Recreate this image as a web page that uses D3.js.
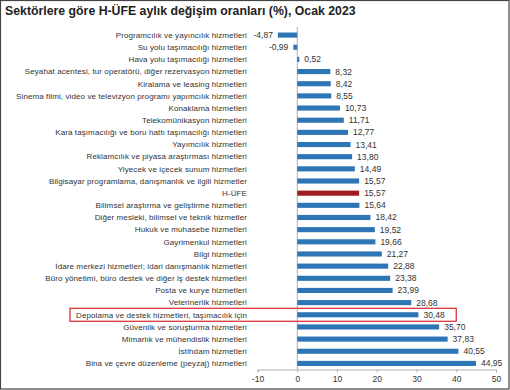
<!DOCTYPE html>
<html>
<head>
<meta charset="utf-8">
<script src="https://cdn.jsdelivr.net/npm/d3@7"></script>
<style>
  html, body { margin: 0; padding: 0; background: #fff; }
  svg { display: block; font-family: "Liberation Sans", Arial, sans-serif; }
</style>
</head>
<body>
<div id="chart"></div>
<script>
const categories = [
  "Programcılık ve yayıncılık hizmetleri",
  "Su yolu taşımacılığı hizmetleri",
  "Hava yolu taşımacılığı hizmetleri",
  "Seyahat acentesi, tur operatörü, diğer rezervasyon hizmetleri",
  "Kiralama ve leasing hizmetleri",
  "Sinema filmi, video ve televizyon programı yapımcılık hizmetleri",
  "Konaklama hizmetleri",
  "Telekomünikasyon hizmetleri",
  "Kara taşımacılığı ve boru hattı taşımacılığı hizmetleri",
  "Yayımcılık hizmetleri",
  "Reklamcılık ve piyasa araştırması hizmetleri",
  "Yiyecek ve içecek sunum hizmetleri",
  "Bilgisayar programlama, danışmanlık ve ilgili hizmetler",
  "H-ÜFE",
  "Bilimsel araştırma ve geliştirme hizmetleri",
  "Diğer mesleki, bilimsel ve teknik hizmetler",
  "Hukuk ve muhasebe hizmetleri",
  "Gayrimenkul hizmetleri",
  "Bilgi hizmetleri",
  "İdare merkezi hizmetleri; idari danışmanlık hizmetleri",
  "Büro yönetimi, büro destek ve diğer iş destek hizmetleri",
  "Posta ve kurye hizmetleri",
  "Veterinerlik hizmetleri",
  "Depolama ve destek hizmetleri, taşımacılık için",
  "Güvenlik ve soruşturma hizmetleri",
  "Mimarlık ve mühendislik hizmetleri",
  "İstihdam hizmetleri",
  "Bina ve çevre düzenleme (peyzaj) hizmetleri"
];
const values = [
  -4.87, -0.99, 0.52, 8.32, 8.42, 8.55, 10.73, 11.71, 12.77, 13.41,
  13.80, 14.49, 15.57, 15.57, 15.64, 18.42, 19.52, 19.66, 21.27, 22.88,
  23.38, 23.99, 28.68, 30.48, 35.70, 37.83, 40.55, 44.95
];
const xTicks = [-10, 0, 10, 20, 30, 40, 50];
const totalLabel = "H-ÜFE";
const highlighted = "Depolama ve destek hizmetleri, taşımacılık için";
const title = "Sektörlere göre H-ÜFE aylık değişim oranları (%), Ocak 2023";

const data = categories.map((c, i) => ({ name: c, value: values[i] }));

const W = 510, H = 390;
const svg = d3.select("#chart").append("svg")
  .attr("width", W).attr("height", H)
  .attr("viewBox", `0 0 ${W} ${H}`);

// frame
svg.append("rect").attr("x", 0.5).attr("y", 0.5).attr("width", W - 1.5).attr("height", H - 1.5)
  .attr("fill", "#fff").attr("stroke", "#444").attr("stroke-width", 1.2);

svg.append("text")
  .attr("x", 5).attr("y", 15)
  .attr("fill", "#222")
  .style("font-size", "12.3px").style("font-weight", "bold")
  .text(title);

const x = d3.scaleLinear().domain([-10, 50]).range([257.5, 496]);
const y = d3.scaleBand()
  .domain(categories)
  .range([29, 369.5])
  .paddingInner(0.58)
  .paddingOuter(0.29);

const trLocale = d3.formatLocale({ decimal: ",", thousands: ".", grouping: [3], currency: ["", ""], minus: "-" });
const fmt = trLocale.format(".2f");

// vertical zero axis
svg.append("line")
  .attr("x1", x(0)).attr("x2", x(0))
  .attr("y1", 27).attr("y2", 369.5)
  .attr("stroke", "#b0b0b0").attr("stroke-width", 1);

// bottom axis
const xAxis = svg.append("g")
  .attr("transform", `translate(0,369.5)`)
  .call(d3.axisBottom(x).tickValues(xTicks).tickSize(3).tickPadding(3).tickFormat(trLocale.format("d")));
xAxis.select(".domain").attr("stroke", "#b0b0b0");
xAxis.selectAll(".tick line").attr("stroke", "#b0b0b0");
xAxis.selectAll(".tick text").attr("fill", "#333").style("font-size", "8.5px")
  .style("font-family", "'Liberation Sans', Arial, sans-serif");

// bars
svg.append("g").selectAll("rect")
  .data(data)
  .join("rect")
  .attr("x", d => x(Math.min(0, d.value)))
  .attr("width", d => Math.abs(x(d.value) - x(0)))
  .attr("y", d => y(d.name))
  .attr("height", y.bandwidth())
  .attr("fill", d => d.name === totalLabel ? "#a01c1f" : "#2e75b6");

// category labels
svg.append("g").selectAll("text")
  .data(data)
  .join("text")
  .attr("x", 247)
  .attr("y", d => y(d.name) + y.bandwidth() / 2)
  .attr("dy", "0.35em")
  .attr("text-anchor", "end")
  .attr("fill", "#333")
  .style("font-size", "8px")
  .style("letter-spacing", "0.1px")
  .text(d => d.name);

// value labels
svg.append("g").selectAll("text")
  .data(data)
  .join("text")
  .attr("x", d => d.value < 0 ? x(d.value) - 5 : x(d.value) + 5)
  .attr("y", d => y(d.name) + y.bandwidth() / 2)
  .attr("dy", "0.35em")
  .attr("text-anchor", d => d.value < 0 ? "end" : "start")
  .attr("fill", "#333")
  .style("font-size", "8.5px")
  .text(d => fmt(d.value));

// highlight box
const hy = y(highlighted) + y.bandwidth() / 2;
svg.append("rect")
  .attr("x", 70).attr("y", hy - 6.5)
  .attr("width", x(40) - 70).attr("height", 13)
  .attr("fill", "none")
  .attr("stroke", "#d8262b").attr("stroke-width", 1.2);
</script>
</body>
</html>
